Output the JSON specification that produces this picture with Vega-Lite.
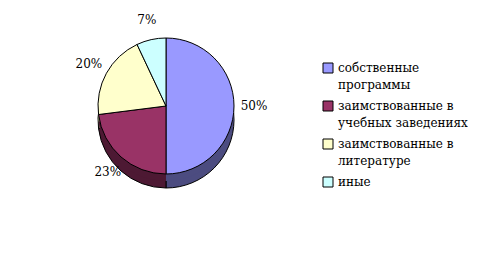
{
  "$schema": "https://vega.github.io/schema/vega-lite/v6.json",
  "width": 332,
  "height": 212,
  "padding": 0,
  "background": "white",
  "config": {"view": {"stroke": null}},
  "data": {"values": [
    {"cat": "собственные программы", "share": 0.50, "order": 1},
    {"cat": "заимствованные в учебных заведениях", "share": 0.23, "order": 2},
    {"cat": "заимствованные в литературе", "share": 0.20, "order": 3},
    {"cat": "иные", "share": 0.07, "order": 4}
  ]},
  "encoding": {
    "theta": {"field": "share", "type": "quantitative", "stack": true},
    "order": {"field": "order", "type": "quantitative"}
  },
  "layer": [
    {
      "mark": {"type": "arc", "outerRadius": 68, "yOffset": 14, "stroke": "black", "strokeWidth": 1},
      "encoding": {"fill": {"field": "cat", "type": "nominal", "legend": null,
        "scale": {"domain": ["собственные программы", "заимствованные в учебных заведениях", "заимствованные в литературе", "иные"],
                  "range": ["#4C4C80", "#4D1933", "#80805F", "#668080"]}}}
    },
    {
      "mark": {"type": "arc", "outerRadius": 68, "yOffset": 7},
      "encoding": {"fill": {"field": "cat", "type": "nominal", "legend": null,
        "scale": {"domain": ["собственные программы", "заимствованные в учебных заведениях", "заимствованные в литературе", "иные"],
                  "range": ["#4C4C80", "#4D1933", "#80805F", "#668080"]}}}
    },
    {
      "mark": {"type": "arc", "outerRadius": 68, "stroke": "black", "strokeWidth": 1},
      "encoding": {"color": {"field": "cat", "type": "nominal",
        "scale": {"domain": ["собственные программы", "заимствованные в учебных заведениях", "заимствованные в литературе", "иные"],
                  "range": ["#9999FF", "#993366", "#FFFFCC", "#CCFFFF"]},
        "legend": {"orient": "none", "legendX": 322, "legendY": 62, "title": null,
          "symbolType": "square", "symbolSize": 100, "symbolStrokeColor": "black", "symbolStrokeWidth": 1,
          "labelFont": "DejaVu Serif", "labelFontSize": 12, "labelColor": "black", "labelLimit": 200,
          "rowPadding": 8,
          "encode": {"labels": {"update": {"lineHeight": {"value": 17}}}},
          "labelExpr": "datum.label == 'собственные программы' ? ['собственные', 'программы'] : datum.label == 'заимствованные в учебных заведениях' ? ['заимствованные в', 'учебных заведениях'] : datum.label == 'заимствованные в литературе' ? ['заимствованные в', 'литературе'] : [datum.label, '']"}}}
    },
    {
      "mark": {"type": "text", "radius": 88, "font": "DejaVu Serif", "fontSize": 12, "color": "black"},
      "encoding": {"text": {"field": "share", "type": "quantitative", "format": ".0%"}}
    }
  ],
  "resolve": {"scale": {"fill": "independent", "color": "independent"}}
}
